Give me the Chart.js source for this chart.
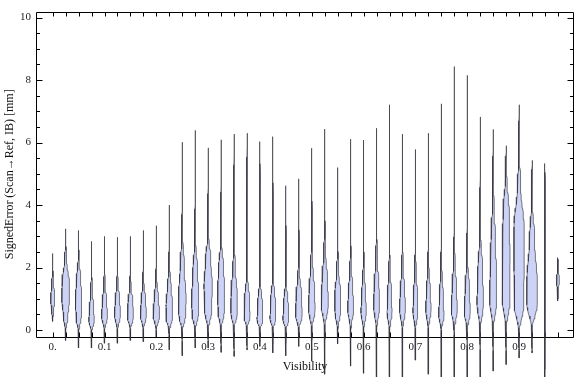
<!DOCTYPE html>
<html>
<head>
<meta charset="utf-8">
<script src="https://cdn.jsdelivr.net/npm/chart.js@4.4.1/dist/chart.umd.min.js"></script>
<style>
  html, body { margin: 0; padding: 0; background: #fff; }
  #wrap { width: 576px; height: 377px; }
</style>
</head>
<body>
<div id="wrap"><canvas id="c" width="576" height="377"></canvas></div>
<script>
// ---- Data ----
// Visibility bins (category centres)
const POSITIONS = [0,0.025,0.05,0.075,0.1,0.125,0.15,0.175,0.2,0.225,0.25,0.275,0.3,0.325,0.35,0.375,0.4,0.425,0.45,0.475,0.5,0.525,0.55,0.575,0.6,0.625,0.65,0.675,0.7,0.725,0.75,0.775,0.8,0.825,0.85,0.875,0.9,0.925,0.95,0.975];
// Minimum and maximum signed error per bin [mm]
const MINS = [0.28,-0.33,-0.57,-0.57,-0.42,-0.42,-0.33,-0.37,-0.22,-0.63,-0.82,-0.57,-0.57,-0.71,-0.84,-0.63,-0.52,-0.73,-0.82,-0.52,-0.99,-1.41,-0.44,-1.15,-1.38,-1.55,-1.55,-1.55,-0.96,-1.41,-1.55,-1.55,-1.55,-1.55,-1.31,-1.1,-0.89,-0.73,-1.55,0.94];
const MAXS = [2.45,3.24,3.19,2.84,3.0,2.97,3.0,3.19,3.34,4.0,6.01,6.39,5.83,6.09,6.27,6.30,6.03,6.19,4.62,4.84,5.82,6.43,5.2,6.11,6.08,6.46,7.21,6.27,5.78,6.3,7.24,8.43,8.15,6.82,6.42,5.9,7.21,5.43,5.33,2.32];
// Smoothed density profile knots per bin: [error, relative density]
const PROFILES = [
  [[0.6,0.15],[1.0,0.35],[1.5,0.15],[2.0,0.03]],
  [[0,0.05],[0.4,0.35],[1.0,0.65],[1.5,0.6],[2.2,0.2],[2.8,0.03]],
  [[-0.05,0.05],[0.4,0.4],[1.0,0.55],[1.6,0.35],[2.3,0.08]],
  [[-0.05,0.05],[0.3,0.45],[0.7,0.35],[1.2,0.15],[2.0,0.03]],
  [[0,0.05],[0.45,0.5],[0.9,0.35],[1.5,0.1],[2.2,0.03]],
  [[0,0.05],[0.5,0.5],[1.0,0.35],[1.5,0.1],[2.2,0.03]],
  [[0,0.05],[0.45,0.5],[0.9,0.4],[1.4,0.1],[2.2,0.03]],
  [[0,0.05],[0.5,0.5],[1.0,0.35],[1.5,0.1],[2.2,0.03]],
  [[0,0.05],[0.5,0.55],[1.0,0.35],[1.6,0.1],[2.3,0.03]],
  [[-0.05,0.05],[0.4,0.5],[0.8,0.55],[1.4,0.3],[2.0,0.08],[3.0,0.02]],
  [[-0.05,0.05],[0.5,0.55],[1.0,0.65],[2.0,0.35],[3.0,0.1],[4.0,0.03]],
  [[0,0.05],[0.5,0.5],[1.0,0.62],[1.8,0.4],[2.8,0.12],[4.0,0.03]],
  [[0,0.05],[0.6,0.55],[1.4,0.7],[2.2,0.45],[3.0,0.12],[4.0,0.03]],
  [[0,0.05],[0.6,0.5],[1.3,0.6],[2.0,0.4],[2.8,0.1],[4.0,0.02]],
  [[0,0.05],[0.6,0.55],[1.2,0.5],[2.0,0.2],[3.0,0.05]],
  [[0,0.05],[0.5,0.5],[1.0,0.4],[1.6,0.15],[2.5,0.04]],
  [[0,0.05],[0.35,0.5],[0.9,0.35],[1.5,0.12],[2.5,0.03]],
  [[0,0.05],[0.4,0.5],[1.0,0.35],[1.6,0.12],[2.5,0.03]],
  [[0,0.05],[0.35,0.5],[0.9,0.35],[1.5,0.1],[2.5,0.03]],
  [[0,0.05],[0.5,0.55],[1.1,0.45],[1.8,0.15],[2.8,0.03]],
  [[0,0.05],[0.7,0.55],[1.3,0.45],[2.0,0.2],[3.0,0.05]],
  [[0,0.05],[0.9,0.6],[1.6,0.45],[2.5,0.15],[3.5,0.04]],
  [[0,0.05],[0.6,0.45],[1.15,0.5],[1.8,0.2],[2.6,0.04]],
  [[0,0.05],[0.7,0.5],[1.3,0.35],[2.0,0.12],[3.0,0.03]],
  [[0,0.05],[0.6,0.45],[1.2,0.3],[2.0,0.1],[3.0,0.03]],
  [[0,0.05],[0.8,0.5],[1.4,0.4],[2.2,0.15],[3.2,0.04]],
  [[0,0.05],[0.6,0.42],[1.2,0.3],[2.0,0.1],[3.0,0.03]],
  [[0,0.05],[0.7,0.5],[1.3,0.35],[2.0,0.12],[3.0,0.03]],
  [[0,0.05],[0.6,0.42],[1.2,0.3],[2.0,0.1],[3.0,0.03]],
  [[0,0.05],[0.7,0.45],[1.3,0.3],[2.0,0.1],[3.0,0.03]],
  [[0,0.05],[0.5,0.45],[1.1,0.3],[2.0,0.1],[3.0,0.03]],
  [[0,0.05],[0.7,0.5],[1.4,0.35],[2.2,0.12],[3.5,0.03]],
  [[0,0.05],[0.6,0.5],[1.3,0.35],[2.2,0.1],[3.5,0.03]],
  [[0,0.05],[0.9,0.55],[1.8,0.4],[3.0,0.12],[4.0,0.04]],
  [[0,0.05],[1.0,0.6],[2.0,0.5],[3.0,0.35],[4.0,0.15],[5.0,0.05]],
  [[0,0.05],[1.0,0.62],[2.5,0.65],[3.8,0.5],[4.8,0.15]],
  [[-0.1,0.05],[0.8,0.75],[2.0,0.85],[3.3,0.85],[4.5,0.3],[5.5,0.08]],
  [[0,0.05],[0.9,0.9],[1.6,0.85],[2.8,0.45],[4.0,0.12]],
  [[0,0.06],[1.0,0.12],[2.5,0.08]],
  [[1.3,0.12],[1.6,0.25],[1.9,0.12]]
];
// Axis ticks
const X_TICKS = [0,0.1,0.2,0.3,0.4,0.5,0.6,0.7,0.8,0.9];
const X_TICK_LABELS = ['0.','0.1','0.2','0.3','0.4','0.5','0.6','0.7','0.8','0.9'];
const Y_TICKS = [0,2,4,6,8,10];
const Y_MINOR_TICKS = [0,0.5,1,1.5,2,2.5,3,3.5,4,4.5,5,5.5,6,6.5,7,7.5,8,8.5,9,9.5,10];
const X_TITLE = 'Visibility';
const Y_TITLE = 'SignedError (Scan\u2192Ref, IB) [mm]';

// ---- Build violin outlines from the density profiles ----
const DENSITY_TO_X = 0.0116; // half-width (x units) at relative density 1
const SUB = 10;
function violinData(i) {
  const knots = [[MINS[i], 0]].concat(PROFILES[i], [[MAXS[i], 0]]);
  const side = [];
  for (let k = 0; k < knots.length - 1; k++) {
    const [y0, d0] = knots[k], [y1, d1] = knots[k + 1];
    for (let s = 0; s < SUB; s++) {
      const t = s / SUB;
      const e = (1 - Math.cos(Math.PI * t)) / 2;
      side.push([y0 + (y1 - y0) * t, d0 + (d1 - d0) * e]);
    }
  }
  side.push(knots[knots.length - 1]);
  const pos = POSITIONS[i];
  const pts = side.map(([y, d]) => ({ x: pos + d * DENSITY_TO_X, y }));
  for (let j = side.length - 1; j >= 0; j--) {
    pts.push({ x: pos - side[j][1] * DENSITY_TO_X, y: side[j][0] });
  }
  return pts;
}

const datasets = POSITIONS.map((p, i) => ({
  label: String(p),
  data: violinData(i),
  showLine: true,
  pointRadius: 0,
  pointHoverRadius: 0,
  borderWidth: 1,
  borderColor: 'rgba(45,45,55,0.62)',
  backgroundColor: 'rgb(205,211,246)',
  fill: 'shape',
  tension: 0,
  clip: false
}));

const FONT = "'Liberation Serif', 'DejaVu Serif', 'Times New Roman', serif";

const framePlugin = {
  id: 'frame',
  beforeDatasetsDraw(chart) {
    const { ctx, chartArea: a, scales: { x, y } } = chart;
    ctx.save();
    ctx.strokeStyle = '#000';
    ctx.lineWidth = 1;
    const L = Math.round(a.left) + 0.5, R = Math.round(a.right) - 0.5;
    const T = Math.round(a.top) + 0.5, B = Math.round(a.bottom) + 0.5;
    ctx.beginPath();
    ctx.rect(L, T, R - L, B - T);
    Y_MINOR_TICKS.forEach(v => {
      const py = Math.round(y.getPixelForValue(v)) + 0.5;
      const len = (Y_TICKS.indexOf(v) >= 0) ? 6 : 3.5;
      ctx.moveTo(L, py); ctx.lineTo(L + len, py);
      ctx.moveTo(R, py); ctx.lineTo(R - len, py);
    });
    POSITIONS.forEach(v => {
      const px = Math.round(x.getPixelForValue(v)) + 0.5;
      ctx.moveTo(px, T); ctx.lineTo(px, T + 4);
      ctx.moveTo(px, B); ctx.lineTo(px, B - 5);
    });
    ctx.stroke();
    ctx.restore();
  }
};

new Chart(document.getElementById('c'), {
  type: 'scatter',
  data: { datasets },
  plugins: [framePlugin],
  options: {
    responsive: false,
    devicePixelRatio: 1,
    animation: false,
    events: [],
    layout: { padding: { top: 5, right: 2, left: 0, bottom: 0 } },
    plugins: { legend: { display: false }, tooltip: { enabled: false } },
    scales: {
      x: {
        type: 'linear',
        min: -0.0322,
        max: 1.006,
        afterBuildTicks: s => { s.ticks = X_TICKS.map(v => ({ value: v })); },
        afterFit: s => { s.height = 40; },
        grid: { display: false, drawTicks: false },
        border: { display: false },
        ticks: {
          padding: 4,
          color: '#222',
          font: { family: FONT, size: 11 },
          maxRotation: 0,
          autoSkip: false,
          callback: (v, idx) => X_TICK_LABELS[idx]
        },
        title: {
          display: true,
          text: X_TITLE,
          color: '#111',
          font: { family: FONT, size: 12 },
          padding: { top: 0, bottom: 3 }
        }
      },
      y: {
        type: 'linear',
        min: -0.22,
        max: 10.19,
        afterBuildTicks: s => { s.ticks = Y_TICKS.map(v => ({ value: v })); },
        afterFit: s => { s.width = 36; },
        grid: { display: false, drawTicks: false },
        border: { display: false },
        ticks: {
          padding: 5,
          color: '#222',
          font: { family: FONT, size: 11 },
          callback: v => String(v)
        },
        title: {
          display: true,
          text: Y_TITLE,
          color: '#111',
          font: { family: FONT, size: 12 },
          padding: { top: 3, bottom: 0 }
        }
      }
    }
  }
});
</script>
</body>
</html>
